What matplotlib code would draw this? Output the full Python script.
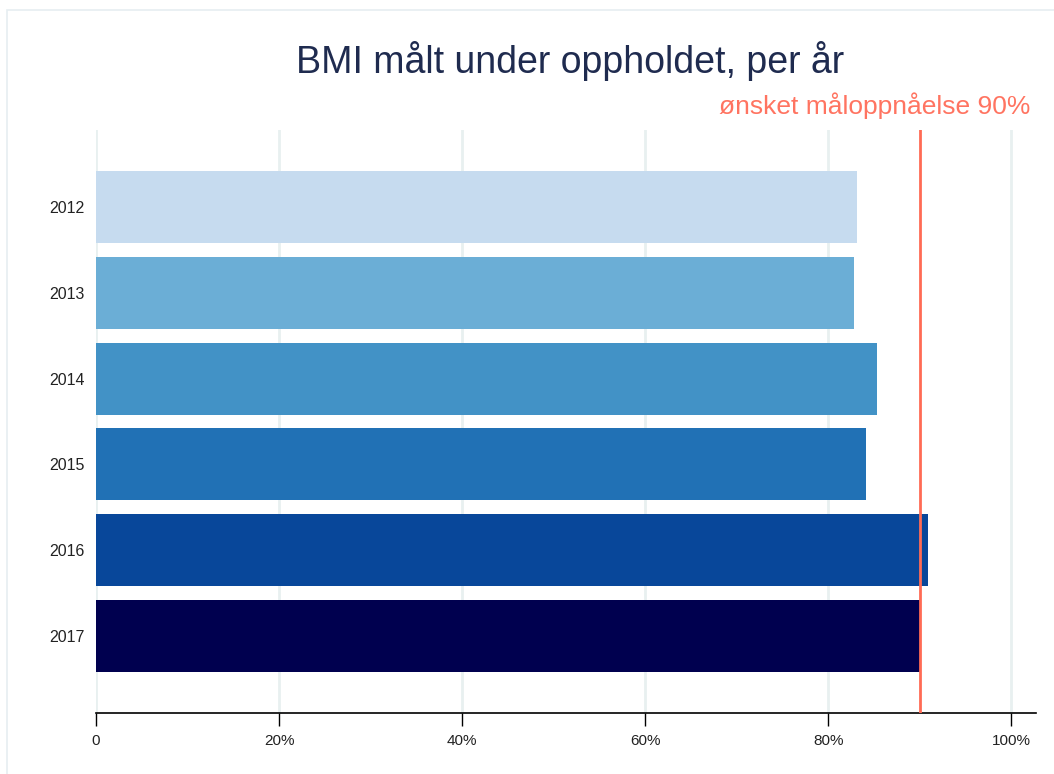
import matplotlib
matplotlib.use("Agg")
import matplotlib.pyplot as plt
from matplotlib.patches import Rectangle

# data
years = ["2012", "2013", "2014", "2015", "2016", "2017"]
values = [83.1, 82.8, 85.3, 84.1, 90.9, 90.0]
bar_colors = ["#c6dbef", "#6baed6", "#4292c6", "#2171b5", "#08479a", "#00004f"]
target = 90
target_label = "ønsket måloppnåelse 90%"
x_ticks = [0, 20, 40, 60, 80, 100]
x_ticklabels = ["0", "20%", "40%", "60%", "80%", "100%"]

plt.rcParams["font.family"] = ["Liberation Sans", "DejaVu Sans"]

fig = plt.figure(figsize=(10.54, 7.74), dpi=100)
ax = fig.add_axes([96 / 1054, 1 - 713 / 774, (1036 - 96) / 1054, (713 - 130) / 774])

# light outer frame (runs off the right and bottom edges)
fig.patches.append(Rectangle((7 / 1054, -0.05), 1.05, 1.05 - 10 / 774,
                             transform=fig.transFigure, fill=False,
                             edgecolor="#e6eef1", linewidth=1.2))

ypos = list(range(len(years)))
ax.barh(ypos, values, height=0.84, color=bar_colors, zorder=2)
ax.axvline(target, color="#ff6b55", linewidth=2, zorder=3)

ax.set_ylim(len(years) - 0.1, -0.9)
ax.set_xlim(0, 102.7)
ax.set_yticks(ypos)
ax.set_yticklabels(years, fontsize=11.5, color="#222222")
ax.set_xticks(x_ticks)
ax.set_xticklabels(x_ticklabels, fontsize=11, color="#222222")
ax.tick_params(axis="y", length=0, pad=8)
ax.tick_params(axis="x", length=9, width=1, pad=6)
ax.grid(axis="x", color="#e8f0f0", linewidth=2, zorder=0)
for s in ["top", "right", "left"]:
    ax.spines[s].set_visible(False)
ax.spines["bottom"].set_linewidth(1.2)

fig.text(570 / 1054, 1 - 61 / 774, "BMI målt under oppholdet, per år",
         ha="center", va="center", fontsize=27, color="#1f2b4f")
fig.text(1030 / 1054, 1 - 106 / 774, target_label,
         ha="right", va="center", fontsize=19, color="#ff7461")

fig.savefig("out.png", dpi=100)
